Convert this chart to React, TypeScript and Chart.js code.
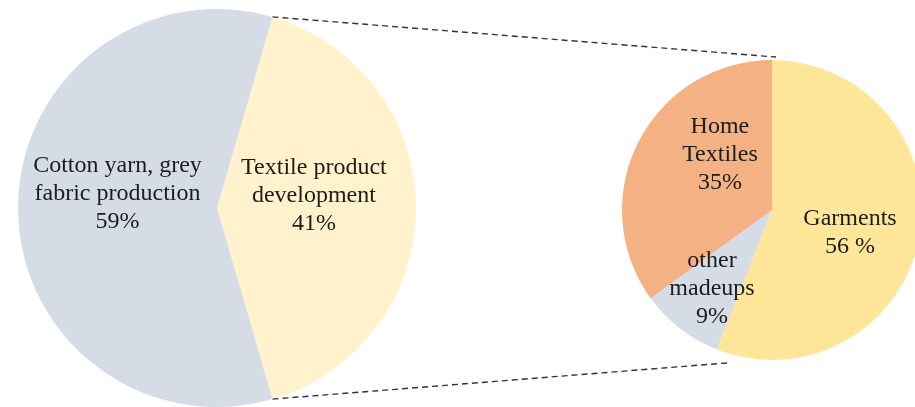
import React, { useEffect, useRef } from "react";
import { Chart, registerables } from "chart.js";

Chart.register(...registerables);

// ---- data ----
const leftCategories = ["Textile product development", "Cotton yarn, grey fabric production"];
const leftValues = [41, 59];
const leftLabelLines = [
  ["Textile product", "development", "41%"],
  ["Cotton yarn, grey", "fabric production", "59%"],
];

const rightCategories = ["Garments", "other madeups", "Home Textiles"];
const rightValues = [56, 9, 35];
const rightLabelLines = [
  ["Garments", "56 %"],
  ["other", "madeups", "9%"],
  ["Home", "Textiles", "35%"],
];

// ---- styles / layout ----
const leftColors = ["#FFF2CC", "#D6DCE5"];
const rightColors = ["#FFE699", "#D6DCE5", "#F4B183"];
// label anchor offsets relative to pie centre, in units of radius
const leftLabelPos = [
  [0.487, -0.06],
  [-0.5, -0.07],
];
const rightLabelPos = [
  [0.52, 0.153],
  [-0.4, 0.527],
  [-0.347, -0.367],
];
// where connector lines meet the right pie (deg clockwise from top, radius scale)
const rightConnect = [
  [1.5, 1.02],
  [196, 1.06],
];

const FONT = '24px "Liberation Serif", "Times New Roman", serif';
const LINE_H = 28;

function labelPlugin(id: string, lines: string[][], pos: number[][]) {
  return {
    id,
    afterDraw(chart: any) {
      const ctx = chart.ctx;
      const meta = chart.getDatasetMeta(0);
      ctx.save();
      ctx.font = FONT;
      ctx.fillStyle = "#1c1c1c";
      ctx.textAlign = "center";
      ctx.textBaseline = "middle";
      meta.data.forEach((arc: any, i: number) => {
        const r = arc.outerRadius;
        const cx = arc.x + pos[i][0] * r;
        const cy = arc.y + pos[i][1] * r;
        const ls = lines[i];
        const start = cy - ((ls.length - 1) * LINE_H) / 2;
        ls.forEach((t, k) => ctx.fillText(t, cx, start + k * LINE_H));
      });
      ctx.restore();
    },
  };
}

export default function App() {
  const leftRef = useRef<HTMLCanvasElement>(null);
  const rightRef = useRef<HTMLCanvasElement>(null);

  useEffect(() => {
    document.body.style.margin = "0";
    const rightChart = new Chart(rightRef.current!, {
      type: "pie",
      data: {
        labels: rightCategories,
        datasets: [
          { data: rightValues, backgroundColor: rightColors, borderWidth: 0 },
        ],
      },
      options: {
        responsive: false,
        animation: false,
        rotation: 0,
        layout: { padding: 0 },
        plugins: { legend: { display: false }, tooltip: { enabled: false } },
      },
      plugins: [labelPlugin("rightLabels", rightLabelLines, rightLabelPos)],
    });

    const sumL = leftValues.reduce((a, b) => a + b, 0);
    const connectorPlugin = {
      id: "connectors",
      afterDraw(chart: any) {
        const ctx = chart.ctx;
        const la = chart.getDatasetMeta(0).data[0] as any;
        const ra = rightChart.getDatasetMeta(0).data[0] as any;
        const rc = rightRef.current!;
        const offX = rc.offsetLeft - (leftRef.current!.offsetLeft);
        const offY = rc.offsetTop - (leftRef.current!.offsetTop);
        const lStart = [
          [la.x + la.outerRadius * Math.cos(la.startAngle), la.y + la.outerRadius * Math.sin(la.startAngle)],
          [la.x + la.outerRadius * Math.cos(la.endAngle), la.y + la.outerRadius * Math.sin(la.endAngle)],
        ];
        ctx.save();
        ctx.strokeStyle = "#333333";
        ctx.lineWidth = 1.4;
        ctx.setLineDash([6, 4]);
        rightConnect.forEach((c, i) => {
          const a = (c[0] * Math.PI) / 180;
          const ex = offX + ra.x + ra.outerRadius * c[1] * Math.sin(a);
          const ey = offY + ra.y - ra.outerRadius * c[1] * Math.cos(a);
          ctx.beginPath();
          ctx.moveTo(lStart[i][0], lStart[i][1]);
          ctx.lineTo(ex, ey);
          ctx.stroke();
        });
        ctx.restore();
      },
    };

    const leftChart = new Chart(leftRef.current!, {
      type: "pie",
      data: {
        labels: leftCategories,
        datasets: [
          { data: leftValues, backgroundColor: leftColors, borderWidth: 0 },
        ],
      },
      options: {
        responsive: false,
        animation: false,
        rotation: 90 - (180 * leftValues[0]) / sumL,
        layout: { padding: { left: 17, top: 9, right: 498, bottom: 0 } },
        plugins: { legend: { display: false }, tooltip: { enabled: false } },
      },
      plugins: [labelPlugin("leftLabels", leftLabelLines, leftLabelPos), connectorPlugin],
    });

    return () => {
      leftChart.destroy();
      rightChart.destroy();
    };
  }, []);

  return (
    <div
      style={{
        position: "relative",
        width: 915,
        height: 407,
        overflow: "hidden",
        background: "#ffffff",
      }}
    >
      <canvas
        ref={leftRef}
        width={915}
        height={407}
        style={{ position: "absolute", left: 0, top: 0, width: 915, height: 407 }}
      />
      <canvas
        ref={rightRef}
        width={300}
        height={300}
        style={{ position: "absolute", left: 622, top: 60, width: 300, height: 300 }}
      />
    </div>
  );
}
